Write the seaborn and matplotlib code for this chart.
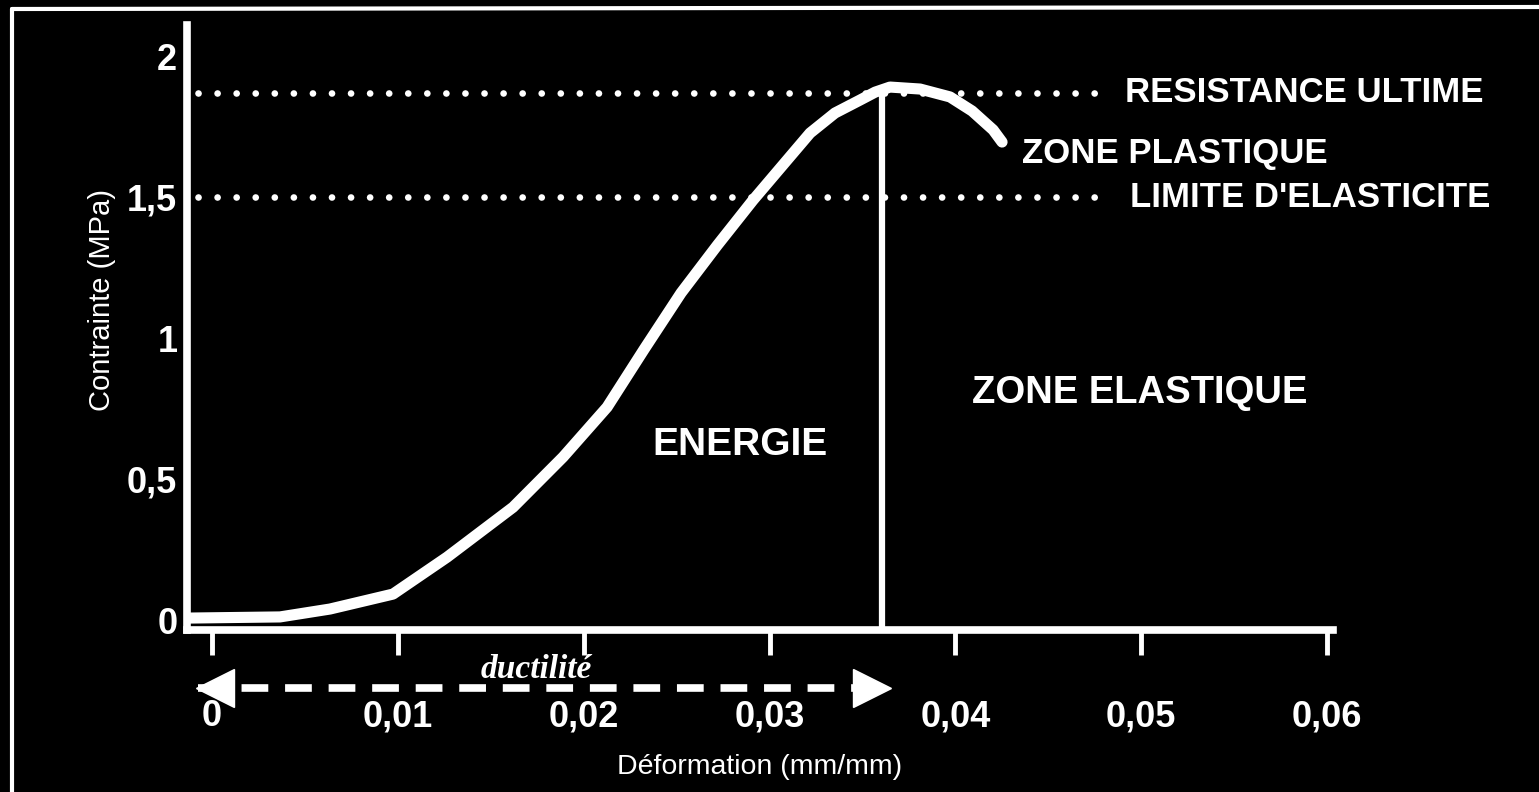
import numpy as np
import pandas as pd
import matplotlib.pyplot as plt
import seaborn as sns

# courbe contrainte / deformation
deformation = [-0.00118, 0.00366, 0.00635, 0.00974, 0.01265, 0.01620, 0.01889, 0.02126,
               0.02325, 0.02524, 0.02720, 0.02911, 0.03067, 0.03218, 0.03352, 0.03487,
               0.03568, 0.03648, 0.03810, 0.03971, 0.04090, 0.04203, 0.04251]
contrainte = [0.007, 0.011, 0.039, 0.092, 0.223, 0.400, 0.578, 0.755,
              0.960, 1.160, 1.330, 1.489, 1.610, 1.727, 1.798, 1.844,
              1.872, 1.890, 1.883, 1.855, 1.805, 1.738, 1.695]

x_ticks = [0, 0.01, 0.02, 0.03, 0.04, 0.05, 0.06]
x_ticklabels = ["0", "0,01", "0,02", "0,03", "0,04", "0,05", "0,06"]
y_ticks = [0, 0.5, 1, 1.5, 2]
y_ticklabels = ["0", "0,5", "1", "1,5", "2"]

resistance_ultime = 1.869
limite_elasticite = 1.50
rupture_x = 0.03605
ductilite = [-0.00075, 0.0364]

sns.set_theme(style="dark", rc={"axes.facecolor": "black", "figure.facecolor": "black"})
plt.rcParams["font.family"] = ["Liberation Sans", "DejaVu Sans"]

df = pd.DataFrame({"Deformation": deformation, "Contrainte": contrainte})

fig = plt.figure(figsize=(15.39, 7.92), dpi=100)
ax = fig.add_axes([0.1215, 0.2045, 0.7447, 0.7639])
sns.lineplot(data=df, x="Deformation", y="Contrainte", ax=ax, sort=False,
             color="white", lw=8, solid_joinstyle="round", solid_capstyle="round")

ax.set_xlim(-0.001345, 0.06032)
ax.set_ylim(-0.0355, 2.11)

# lignes pointillees horizontales
for yv in (resistance_ultime, limite_elasticite):
    ax.plot([-0.00075, 0.0483], [yv, yv], color="white", lw=4.8,
            ls=(0, (0.01, 2.85)), dash_capstyle="round")

# ligne verticale a la rupture
ax.plot([rupture_x, rupture_x], [-0.035, resistance_ultime], color="white", lw=4.5)

# fleche de ductilite
arrow_y = -0.241
ax.plot(ductilite, [arrow_y, arrow_y], color="white", lw=5.5,
        ls=(0, (3.5, 2.2)), clip_on=False)
ax.plot([ductilite[0] + 0.0009], [arrow_y], marker="<", ms=27, color="white",
        mec="white", clip_on=False)
ax.plot([ductilite[1] - 0.0009], [arrow_y], marker=">", ms=27, color="white",
        mec="white", clip_on=False)
ax.text(0.01743, -0.177, "ductilité", color="white", fontsize=24, fontweight="bold",
        fontstyle="italic", family=["Liberation Serif", "DejaVu Serif"],
        ha="center", va="center", clip_on=False)

bold = dict(color="white", fontweight="bold", va="center", clip_on=False)
ax.text(0.0491, resistance_ultime, "RESISTANCE ULTIME", ha="left", fontsize=25, **bold)
ax.text(0.0436, 1.656, "ZONE PLASTIQUE", ha="left", fontsize=25, **bold)
ax.text(0.0494, limite_elasticite, "LIMITE D'ELASTICITE", ha="left", fontsize=25, **bold)
ax.text(0.0499, 0.805, "ZONE ELASTIQUE", ha="center", fontsize=27.5, **bold)
ax.text(0.0284, 0.62, "ENERGIE", ha="center", fontsize=28, **bold)

ax.set_xticks(x_ticks, x_ticklabels)
ax.set_yticks(y_ticks, y_ticklabels)
ax.tick_params(axis="x", colors="white", direction="out", length=18, width=3.5,
               pad=32, labelsize=26, bottom=True)
ax.tick_params(axis="y", colors="white", length=0, pad=7, labelsize=26)
for lab in ax.get_xticklabels() + ax.get_yticklabels():
    lab.set_fontweight("bold")

ax.set_xlabel("Déformation (mm/mm)", color="white", fontsize=20.5, labelpad=14)
ax.set_ylabel("Contrainte (MPa)", color="white", fontsize=21)
ax.yaxis.set_label_coords(-0.062, 0.545)

sns.despine(ax=ax)
for side in ("left", "bottom"):
    ax.spines[side].set_color("white")
    ax.spines[side].set_linewidth(5.5)
ax.grid(False)

# cadre autour de la figure
fig.add_artist(plt.Line2D([12 / 1539, 12 / 1539], [0, 1 - 9 / 792], color="white", lw=3))
fig.add_artist(plt.Line2D([12 / 1539, 1], [1 - 9 / 792, 1 - 7 / 792], color="white", lw=3))

fig.savefig("out.png", dpi=100, facecolor="black")
